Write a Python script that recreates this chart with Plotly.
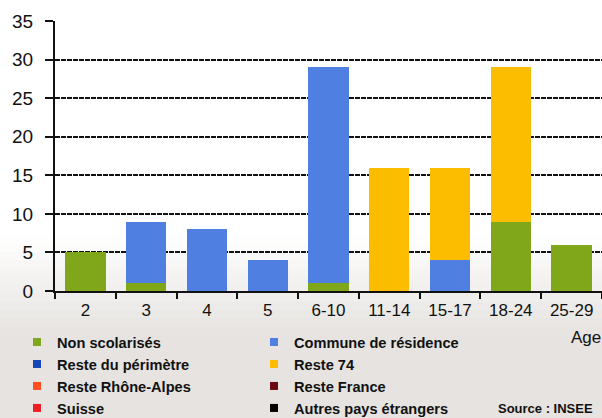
import plotly.graph_objects as go

categories = ["2", "3", "4", "5", "6-10", "11-14", "15-17", "18-24", "25-29"]
series_names = ["Non scolarisés", "Commune de résidence", "Reste du périmètre", "Reste 74",
                "Reste Rhône-Alpes", "Reste France", "Suisse", "Autres pays étrangers"]
non_scolarises = [5, 1, 0, 0, 1, 0, 0, 9, 6]
commune_residence = [0, 8, 8, 4, 28, 0, 4, 0, 0]
reste_perimetre = [0, 0, 0, 0, 0, 0, 0, 0, 0]
reste_74 = [0, 0, 0, 0, 0, 16, 12, 20, 0]
reste_rhone_alpes = [0, 0, 0, 0, 0, 0, 0, 0, 0]
reste_france = [0, 0, 0, 0, 0, 0, 0, 0, 0]
suisse = [0, 0, 0, 0, 0, 0, 0, 0, 0]
autres_pays = [0, 0, 0, 0, 0, 0, 0, 0, 0]
y_ticks = [0, 5, 10, 15, 20, 25, 30, 35]

values = [non_scolarises, commune_residence, reste_perimetre, reste_74,
          reste_rhone_alpes, reste_france, suisse, autres_pays]
colors = ["#80a61a", "#4f7fe0", "#1646b8", "#fcbc00", "#ff4f1f", "#6a0a14", "#ee1c25", "#000000"]

W, H = 602, 418
ML, MT, MB, MR = 55, 21, 127, 0
plot_h = H - MT - MB
plot_w = W - ML - MR

fig = go.Figure()
for name, vals, col in zip(series_names, values, colors):
    fig.add_trace(go.Bar(x=categories, y=vals, name=name, marker_color=col,
                         marker_line_width=0, showlegend=False))
for name, col in zip(series_names, colors):
    fig.add_trace(go.Scatter(x=[None], y=[None], mode="markers", name=name,
                             marker=dict(symbol="square", size=8, color=col)))

def py2paper(py):
    return (H - MB - py) / plot_h

def px2paper(px):
    return (px - ML) / plot_w

# background gradient (white to light grey at bottom)
start, end = 235, 335
n = 12
top_c = (255, 255, 255)
bot_c = (230, 227, 224)
shapes = []
for i in range(n):
    y0 = start + (end - start) * i / n
    t = (i + 0.5) / n
    c = tuple(int(round(top_c[k] + (bot_c[k] - top_c[k]) * t)) for k in range(3))
    shapes.append(dict(type="rect", xref="paper", yref="paper", x0=-0.2, x1=1.2,
                       y0=py2paper(y0), y1=py2paper(y0 + (end - start) / n + 1),
                       fillcolor="rgb(%d,%d,%d)" % c, line_width=0, layer="below"))
shapes.append(dict(type="rect", xref="paper", yref="paper", x0=-0.2, x1=1.2,
                   y0=py2paper(H + 5), y1=py2paper(end),
                   fillcolor="rgb(%d,%d,%d)" % bot_c, line_width=0, layer="below"))

fig.update_layout(
    width=W, height=H,
    margin=dict(l=ML, r=MR, t=MT, b=MB, autoexpand=False),
    barmode="stack", bargap=0.337,
    paper_bgcolor="white", plot_bgcolor="rgba(0,0,0,0)",
    font=dict(family="Liberation Sans, Arial, sans-serif", color="#111111"),
    shapes=shapes,
    xaxis=dict(showline=True, linecolor="#111111", linewidth=2, ticks="outside",
               tickson="boundaries", ticklen=6, tickcolor="#111111", tickwidth=2,
               tickfont=dict(size=17, color="#111111"), showgrid=False,
               ticklabelstandoff=3, fixedrange=True),
    yaxis=dict(range=[0, 35], tickvals=y_ticks, showline=True, linecolor="#111111",
               linewidth=2, ticks="outside", ticklen=8, tickcolor="#111111",
               tickwidth=2, tickfont=dict(size=19, color="#111111"),
               showgrid=True, gridcolor="#111111", gridwidth=2, griddash="5px,1px",
               zeroline=False, ticklabelstandoff=8, fixedrange=True),
    legend=dict(orientation="h", traceorder="normal", x=px2paper(17), xanchor="left",
                y=py2paper(326), yanchor="top", entrywidth=192,
                font=dict(size=14.6, color="#111111", family="Liberation Sans, Arial, sans-serif", weight="bold"),
                bgcolor="rgba(0,0,0,0)", itemclick=False),
    annotations=[
        dict(text="Age", xref="paper", yref="paper", x=px2paper(586),
             y=py2paper(337), showarrow=False, font=dict(size=17, color="#111111"),
             xanchor="center", yanchor="middle"),
        dict(text="<b>Source : INSEE</b>", xref="paper", yref="paper",
             x=px2paper(545), y=py2paper(408), showarrow=False,
             font=dict(size=13, color="#111111"), xanchor="center", yanchor="middle"),
    ],
)

fig.write_html("out.html", config={"displayModeBar": False},
               post_script="document.body.style.margin='0';document.body.style.overflow='hidden';")
